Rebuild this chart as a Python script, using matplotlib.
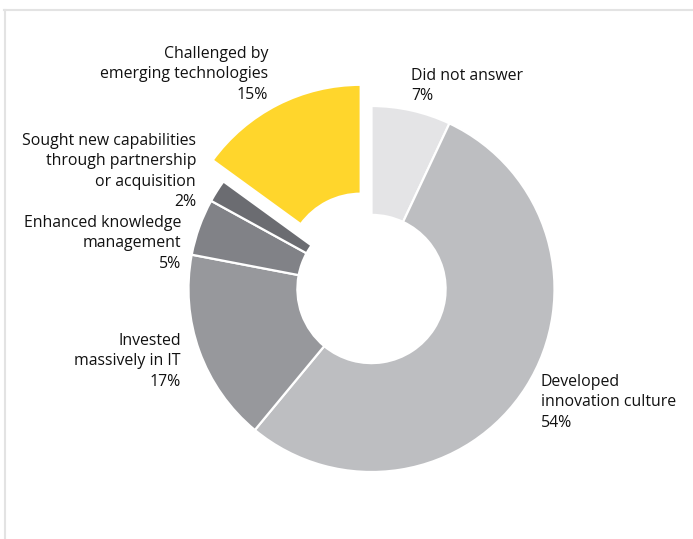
import matplotlib
matplotlib.use("Agg")
import matplotlib.pyplot as plt
from matplotlib.lines import Line2D

# Survey responses, in clockwise order from 12 o'clock
categories = [
    "Did not answer",
    "Developed\ninnovation culture",
    "Invested\nmassively in IT",
    "Enhanced knowledge\nmanagement",
    "Sought new capabilities\nthrough partnership\nor acquisition",
    "Challenged by\nemerging technologies",
]
values = [7, 54, 17, 5, 2, 15]
colors = ["#e4e4e6", "#bdbec1", "#97989c", "#818287", "#6b6c71", "#ffd62c"]

W, H = 693, 539
fig = plt.figure(figsize=(W / 100, H / 100), dpi=100)
ax = fig.add_axes([0, 0, 1, 1])
ax.set_xlim(0, W)
ax.set_ylim(0, H)
ax.set_aspect("equal")
ax.axis("off")

R = 183
cx, cy = 371.5, H - 289
explode = [0, 0, 0, 0, 0, 0.13 * R]

ax.pie(values, colors=colors, startangle=90, counterclock=False,
       radius=R, center=(cx, cy), explode=explode,
       wedgeprops=dict(width=R * 0.595, edgecolor="white", linewidth=1.6),
       frame=True)
ax.set_xlim(0, W)
ax.set_ylim(0, H)
ax.axis("off")

font = dict(family=["Open Sans", "DejaVu Sans"], fontsize=11.4, color="#111111",
            linespacing=1.37)

def label(i, x, ytop, ha):
    pct = f"{values[i]}%"
    txt = f"{categories[i]}\n{pct}"
    ax.text(x, H - ytop, txt, ha=ha, va="top", multialignment=ha, **font)

label(5, 268, 46, "right")
label(4, 196, 133, "right")
label(3, 181, 215, "right")
label(2, 181, 333, "right")
label(0, 411, 68, "left")
label(1, 541, 374, "left")

# Panel border along the top and left edges
frame_col = "#e3e3e3"
fig.add_artist(Line2D([4 / W, 1], [1 - 10 / H, 1 - 10 / H], color=frame_col, lw=1.5))
fig.add_artist(Line2D([5 / W, 5 / W], [0, 1 - 10 / H], color=frame_col, lw=1.5))

fig.savefig("out.png", dpi=100)
